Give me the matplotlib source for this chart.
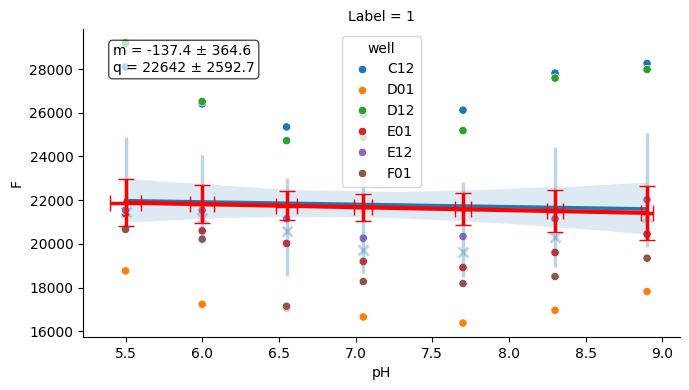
import matplotlib
matplotlib.use("Agg")
import matplotlib.pyplot as plt
import pandas as pd
import seaborn as sns

# pH steps and raw fluorescence per well
ph = [5.5, 6.0, 6.55, 7.05, 7.7, 8.3, 8.9]
wells = ["C12", "D01", "D12", "E01", "E12", "F01"]
c12 = [28091, 26408, 25353, 25936, 26119, 27815, 28256]
d01 = [18765, 17238, 17080, 16656, 16381, 16963, 17820]
d12 = [29191, 26513, 24725, 24881, 25184, 27586, 27981]
e01 = [21380, 20599, 20021, 19196, 18921, 19608, 20447]
e12 = [21534, 21534, 21149, 20264, 20342, 21149, 22020]
f01 = [20663, 20218, 17146, 18279, 18187, 18508, 19347]

# light blue summary per pH
avg_f = [23200, 22085, 20762, 20869, 20661, 21686, 22451]
avg_err = [1680, 1985, 2240, 2196, 2171, 2738, 2613]
med_f = [21456, 21167, 20585, 19714, 19608, 20324, 21241]

# weighted fit (red)
fit_f = [21886, 21818, 21742, 21673, 21584, 21502, 21419]
fit_xerr = [0.10, 0.08, 0.067, 0.059, 0.052, 0.052, 0.038]
fit_yerr = [1077, 871, 665, 628, 724, 947, 1238]
fit_text = "m = -137.4 ± 364.6\nq = 22642 ± 2592.7"

rows = []
for name, vals in zip(wells, [c12, d01, d12, e01, e12, f01]):
    for x, v in zip(ph, vals):
        rows.append({"pH": x, "F": v, "well": name})
df = pd.DataFrame(rows)

fig, ax = plt.subplots(figsize=(6.89, 3.9), dpi=100)
sns.scatterplot(data=df, x="pH", y="F", hue="well", ax=ax)
sns.regplot(data=df, x="pH", y="F", scatter=False, color="C0", ci=68, seed=0,
            line_kws={"lw": 2.5}, ax=ax)

ax.errorbar(ph, avg_f, yerr=avg_err, fmt="none", ecolor="C0", alpha=0.3,
            elinewidth=2.5)
ax.plot(ph, med_f, "x", color="C0", alpha=0.3, ms=7, mew=2)

ax.errorbar(ph, fit_f, xerr=fit_xerr, yerr=fit_yerr, fmt="-", color="r",
            lw=3, elinewidth=2.5, capsize=6, capthick=1)

ax.text(0.05, 0.95, fit_text, transform=ax.transAxes, va="top", fontsize=10,
        bbox=dict(boxstyle="round", facecolor="white", alpha=0.7))

sns.move_legend(ax, "upper center")
ax.set_title("Label = 1", fontsize=10)
ax.set_xlabel("pH")
ax.set_ylabel("F")
sns.despine(ax=ax)

fig.subplots_adjust(left=0.1205, right=0.987, top=0.9256, bottom=0.1359)
fig.savefig("out.png")
